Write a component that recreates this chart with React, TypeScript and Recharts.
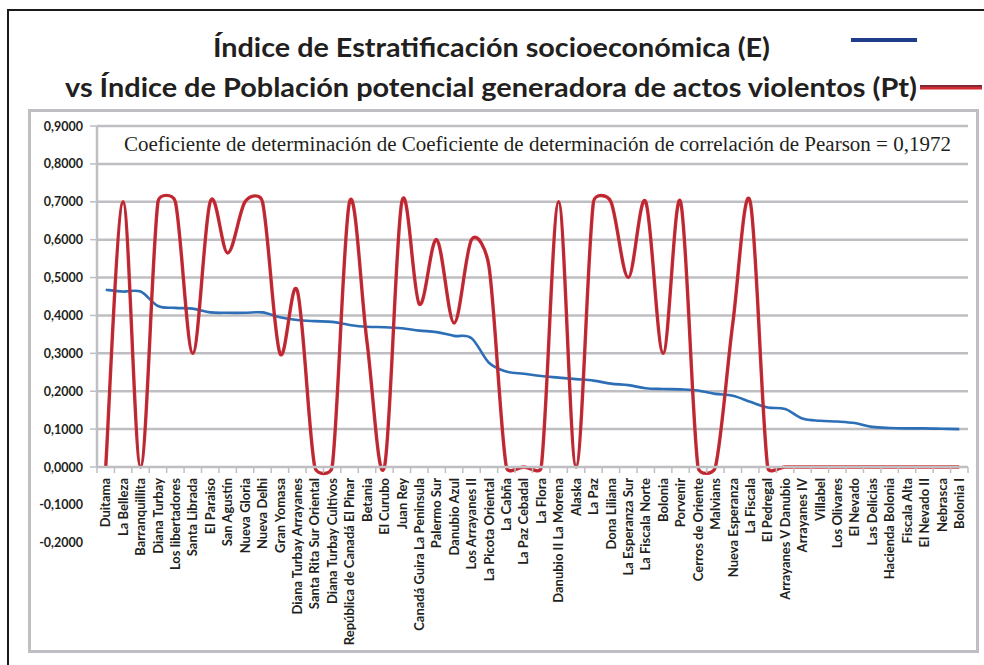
import { LineChart, Line, XAxis, YAxis, ReferenceLine } from 'recharts'

const barrios = [
  'Duitama', 'La Belleza', 'Barranquillita', 'Diana Turbay', 'Los libertadores', 'Santa Librada',
  'El Paraiso', 'San Agustín', 'Nueva Gloria', 'Nueva Delhi', 'Gran Yomasa', 'Diana Turbay Arrayanes',
  'Santa Rita Sur Oriental', 'Diana Turbay Cultivos', 'República de Canadá El Pinar', 'Betania',
  'El Curubo', 'Juan Rey', 'Canadá Guira La Peninsula', 'Palermo Sur', 'Danubio Azul', 'Los Arrayanes II',
  'La Picota Oriental', 'La Cabña', 'La Paz Cebadal', 'La Flora', 'Danubio II La Morena', 'Alaska',
  'La Paz', 'Dona Liliana', 'La Esperanza Sur', 'La Fiscala Norte', 'Bolonia', 'Porvenir',
  'Cerros de Oriente', 'Malvians', 'Nueva Esperanza', 'La Fiscala', 'El Pedregal', 'Arrayanes V Danubio',
  'Arrayanes IV', 'Villabel', 'Los Olivares', 'El Nevado', 'Las Delicias', 'Hacienda Bolonia',
  'Fiscala Alta', 'El Nevado II', 'Nebrasca', 'Bolonia I',
]

// Índice de Estratificación socioeconómica (E)
const indiceE = [
  0.468, 0.463, 0.463, 0.425, 0.42, 0.418, 0.408, 0.407, 0.407, 0.408,
  0.395, 0.388, 0.385, 0.383, 0.375, 0.37, 0.369, 0.366, 0.36, 0.356,
  0.346, 0.34, 0.275, 0.252, 0.246, 0.24, 0.236, 0.232, 0.228, 0.22,
  0.216, 0.208, 0.206, 0.205, 0.202, 0.193, 0.188, 0.172, 0.157, 0.153,
  0.128, 0.122, 0.12, 0.116, 0.106, 0.103, 0.102, 0.102, 0.101, 0.1,
]

// Índice de Población potencial generadora de actos violentos (Pt)
const indicePt = [
  0, 0.7, 0, 0.7, 0.7, 0.3, 0.7, 0.565, 0.7, 0.7,
  0.3, 0.465, 0, 0, 0.7, 0.33, 0, 0.7, 0.43, 0.6,
  0.38, 0.6, 0.53, 0, 0, 0, 0.7, 0, 0.7, 0.7,
  0.5, 0.7, 0.3, 0.7, 0, 0, 0.38, 0.7, 0, 0,
  0, 0, 0, 0, 0, 0, 0, 0, 0, 0,
]

const yTicks = [0.9, 0.8, 0.7, 0.6, 0.5, 0.4, 0.3, 0.2, 0.1, 0, -0.1, -0.2]
const gridValues = [0.1, 0.2, 0.3, 0.4, 0.5, 0.6, 0.7, 0.8, 0.9]

const data = barrios.map((barrio, i) => ({ barrio, e: indiceE[i], pt: indicePt[i] }))

const GRID = '#bfbfc3'
const INK = '#231f20'
const SANS = 'Lato, "Open Sans", sans-serif'
const BAND = 871 / 50

// smoothing close to Excel's: catmull-rom tangent, arm capped at half the segment
const excelSmooth = (context: any) => {
  let pts: number[][] = []
  const arm = (a: number[], c: number[], seg: number) => {
    const tx = c[0] - a[0]
    const ty = c[1] - a[1]
    const d = Math.hypot(tx, ty)
    if (!d) return [0, 0]
    const l = Math.min(d / 6, seg / 2)
    return [(tx / d) * l, (ty / d) * l]
  }
  return {
    areaStart() {},
    areaEnd() {},
    lineStart() { pts = [] },
    point(x: number, y: number) { pts.push([+x, +y]) },
    lineEnd() {
      const n = pts.length
      if (!n) return
      context.moveTo(pts[0][0], pts[0][1])
      for (let i = 0; i < n - 1; i++) {
        const p0 = pts[Math.max(i - 1, 0)]
        const p1 = pts[i]
        const p2 = pts[i + 1]
        const p3 = pts[Math.min(i + 2, n - 1)]
        const seg = Math.hypot(p2[0] - p1[0], p2[1] - p1[1])
        const a1 = arm(p0, p2, seg)
        const a2 = arm(p1, p3, seg)
        context.bezierCurveTo(p1[0] + a1[0], p1[1] + a1[1], p2[0] - a2[0], p2[1] - a2[1], p2[0], p2[1])
      }
    },
  }
}

const fmt = (v: number) => v.toFixed(4).replace('.', ',')

const BarrioTick = (props: any) => {
  const { x, y, payload, index } = props
  return (
    <g transform={`translate(${x},${y})`}>
      <line x1={-BAND / 2} x2={-BAND / 2} y1={0} y2={6} stroke={GRID} strokeWidth={1.5} />
      {index === barrios.length - 1 && <line x1={BAND / 2} x2={BAND / 2} y1={0} y2={6} stroke={GRID} strokeWidth={1.5} />}
      <text transform="rotate(-90)" x={-11} y={0} dy="0.36em" textAnchor="end"
        fontSize={13} fontWeight={700} fill={INK} fontFamily={SANS}>
        {payload.value}
      </text>
    </g>
  )
}

const ValueTick = (props: any) => {
  const { x, y, payload } = props
  return (
    <g>
      {payload.value >= 0 && <line x1={x - 7} x2={x} y1={y} y2={y} stroke={GRID} strokeWidth={1.5} />}
      <text x={x - 14} y={y} dy="0.36em" textAnchor="end" fontSize={12.5} fontWeight={700} fill={INK} fontFamily={SANS}>
        {fmt(payload.value)}
      </text>
    </g>
  )
}

export default function App() {
  return (
    <div style={{ position: 'absolute', left: 0, top: 0, width: 984, height: 665, background: '#fff', overflow: 'hidden' }}>
      <div style={{ position: 'absolute', left: 7, top: 9, width: 1100, height: 800, border: '2px solid #1a1a1a' }} />
      <div style={{ position: 'absolute', left: 28, top: 109, width: 951, height: 544, border: `3px solid ${GRID}`, boxSizing: 'border-box' }} />

      <div style={{ position: 'absolute', left: 0, top: 0 }}>
        <LineChart width={984} height={665} data={data} margin={{ top: 126, right: 16, left: 37, bottom: 18 }}>
          {gridValues.map((v) => (
            <ReferenceLine key={v} y={v} stroke={GRID} strokeWidth={2.5} />
          ))}
          <XAxis dataKey="barrio" interval={0} height={180} padding={{ left: BAND / 2, right: BAND / 2 }}
            axisLine={{ stroke: GRID, strokeWidth: 2.5 }} tickLine={false} tickSize={0} tickMargin={0}
            tick={<BarrioTick />} />
          <YAxis type="number" domain={[0, 0.9]} ticks={yTicks} interval={0} width={60}
            axisLine={{ stroke: GRID, strokeWidth: 2.5 }} tickLine={false} tickSize={0} tickMargin={0}
            tick={<ValueTick />} />
          <Line dataKey="e" type={excelSmooth as any} stroke="#2c6fb7" strokeWidth={2.6} dot={false} isAnimationActive={false} />
          <Line dataKey="pt" type={excelSmooth as any} stroke="#d3262f" strokeWidth={3.4} dot={false} isAnimationActive={false} />
          <Line dataKey="pt" type={excelSmooth as any} stroke="#963240" strokeWidth={1} dot={false} isAnimationActive={false} />
        </LineChart>
      </div>

      <svg width={984} height={665} style={{ position: 'absolute', left: 0, top: 0, pointerEvents: 'none' }}>
        <text x={213} y={57} fontSize={27} fontWeight={700} fill={INK} fontFamily={SANS}
          textLength={557} lengthAdjust="spacingAndGlyphs">
          Índice de Estratificación socioeconómica (E)
        </text>
        <text x={65} y={97} fontSize={27} fontWeight={700} fill={INK} fontFamily={SANS}
          textLength={852} lengthAdjust="spacingAndGlyphs">
          vs Índice de Población potencial generadora de actos violentos (Pt)
        </text>
        <rect x={851} y={38} width={66} height={4} fill="#1f3d88" />
        <rect x={920} y={85} width={62} height={2} fill="#7e2a3a" />
        <rect x={920} y={87} width={62} height={2.5} fill="#d22a30" />
        <text x={124} y={151} fontSize={20} fill={INK} fontFamily='"Liberation Serif", "Times New Roman", serif'
          textLength={827} lengthAdjust="spacingAndGlyphs">
          Coeficiente de determinación de Coeficiente de determinación de correlación de Pearson = 0,1972
        </text>
      </svg>
    </div>
  )
}
